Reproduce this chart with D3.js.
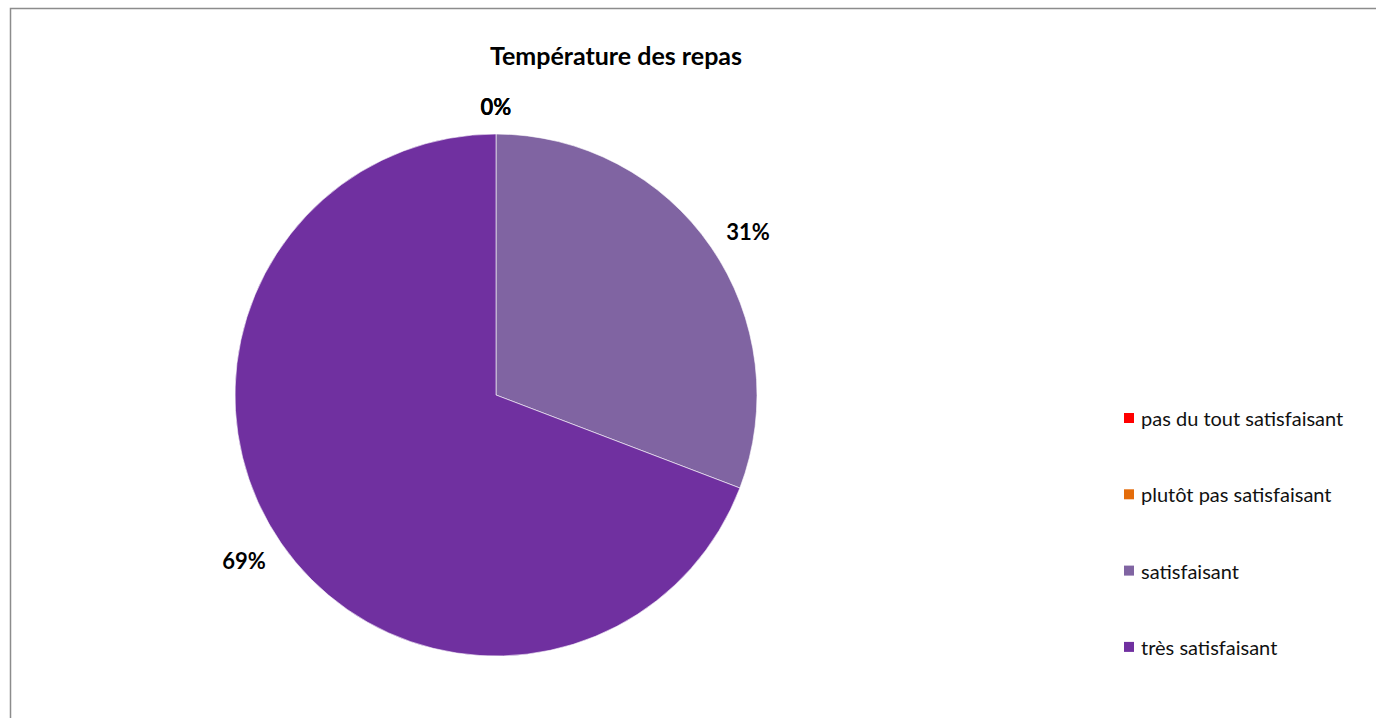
<!DOCTYPE html>
<html>
<head>
<meta charset="utf-8">
<script src="https://cdn.jsdelivr.net/npm/d3@7"></script>
<style>
  html, body { margin: 0; padding: 0; background: #fff; }
  svg { display: block; font-family: Lato, "Open Sans", sans-serif; }
</style>
</head>
<body>
<svg id="chart"></svg>
<script>
const title = "Température des repas";
const categories = [
  "pas du tout satisfaisant",
  "plutôt pas satisfaisant",
  "satisfaisant",
  "très satisfaisant",
];
const values = [0, 0, 30.8, 69.2];
const labels = ["0%", "0%", "31%", "69%"];
const colors = ["#FF0000", "#E46C0A", "#8064A2", "#7030A0"];

const width = 1376, height = 718;
const svg = d3.select("svg#chart").attr("width", width).attr("height", height);

// chart frame
svg.append("rect")
  .attr("x", 10.5).attr("y", 8.5)
  .attr("width", width + 20).attr("height", height + 20)
  .attr("fill", "#fff")
  .attr("stroke", "#8c8c8c")
  .attr("stroke-width", 1.5);

svg.append("text")
  .attr("x", 616).attr("y", 65)
  .attr("text-anchor", "middle")
  .attr("font-size", 25)
  .attr("font-weight", "bold")
  .text(title);

const cx = 496, cy = 395, r = 261;
const data = categories.map((name, i) => ({ name, value: values[i], label: labels[i], color: colors[i] }));

const pie = d3.pie().sort(null).value((d) => d.value);
const arc = d3.arc().innerRadius(0).outerRadius(r);
const arcs = pie(data);

const g = svg.append("g").attr("transform", `translate(${cx},${cy})`);
g.selectAll("path")
  .data(arcs.filter((d) => d.value > 0))
  .join("path")
  .attr("d", arc)
  .attr("fill", (d) => d.data.color)
  .attr("stroke", "#fff")
  .attr("stroke-width", 0.6);

// labels placed outside end, box pushed away from the arc
const gap = 15;
g.selectAll("text")
  .data(arcs)
  .join("text")
  .attr("text-anchor", "middle")
  .attr("dominant-baseline", "central")
  .attr("font-size", 22)
  .attr("font-weight", "bold")
  .attr("x", (d) => {
    const a = (d.startAngle + d.endAngle) / 2;
    return Math.sin(a) * (r + gap) + Math.sin(a) * 30;
  })
  .attr("y", (d) => {
    const a = (d.startAngle + d.endAngle) / 2;
    return -Math.cos(a) * (r + gap) - Math.cos(a) * 14 + 1;
  })
  .text((d) => d.data.label);

// legend
const legend = svg.append("g").attr("transform", "translate(1124,418)")
  .selectAll("g")
  .data(data)
  .join("g")
  .attr("transform", (d, i) => `translate(0,${i * 76.3})`);

legend.append("rect")
  .attr("x", 0).attr("y", -5)
  .attr("width", 10).attr("height", 10)
  .attr("fill", (d) => d.color);

legend.append("text")
  .attr("x", 17).attr("y", 0)
  .attr("dominant-baseline", "central")
  .attr("font-size", 20)
  .attr("fill", "#111")
  .text((d) => d.name);
</script>
</body>
</html>
